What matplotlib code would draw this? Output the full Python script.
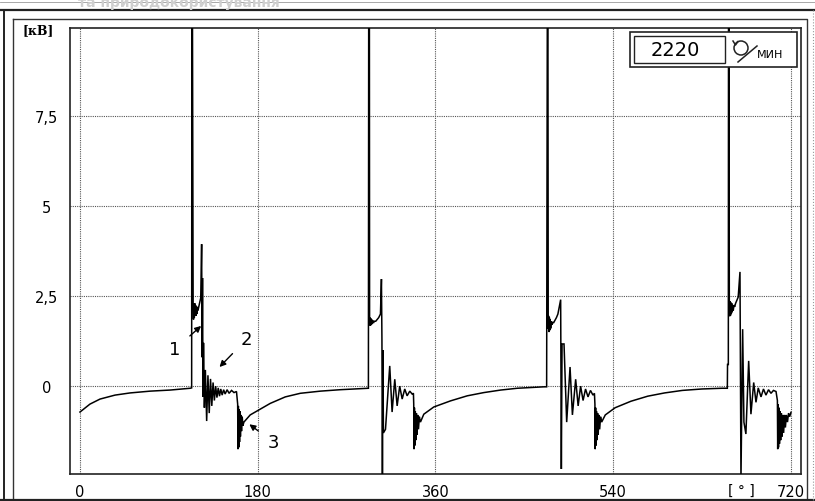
import numpy as np
import matplotlib
matplotlib.use("Agg")
import matplotlib.pyplot as plt
from matplotlib.patches import Circle, Rectangle

plt.rcParams.update({
    'font.family': ['DejaVu Sans'],
    'font.size': 10,
})

# --- данные осциллограммы (градусы ПКВ, кВ) ---
cyc1_deg = [0, 10.1, 20.3, 35.5, 50.7, 71.0, 91.3, 111.6, 113.1, 113.3, 113.9, 114.6,
            115.0, 115.4, 115.8, 116.2, 116.6, 117.0, 117.4, 117.8, 118.3, 118.8, 119.5, 120.3, 121.2, 122.3,
            123.2, 123.7, 124.1, 124.6, 125.1, 126.0, 127.0, 128.3, 129.6, 130.9, 132.2, 133.5, 134.8,
            136.1, 137.4, 138.7, 140.0, 141.3, 142.6, 144.0, 145.5, 147.0, 149.0, 151.0, 153.5, 156.0, 158.5,
            159.7, 160.0, 160.4, 160.8, 161.2, 161.6, 162.0, 162.5, 163.0, 163.6, 164.3, 165.0, 166.0,
            172.4, 182.6, 192.7, 207.9, 223.1, 243.4, 263.7, 292.1]
cyc1_kv = [-0.72, -0.5, -0.36, -0.25, -0.19, -0.14, -0.11, -0.06, -0.05, 10.5, 10.5, 2.2,
           1.85, 2.3, 1.9, 2.3, 1.95, 2.25, 1.95, 2.2, 2.0, 2.2, 2.1, 2.2, 2.3, 2.45,
           3.94, 0.8, 3.0, -0.3, 1.2, -0.6, 0.45, -0.97, 0.3, -0.75, 0.2, -0.55, 0.1,
           -0.4, 0.0, -0.32, -0.05, -0.28, -0.08, -0.25, -0.1, -0.22, -0.1, -0.2, -0.12, -0.18, -0.15,
           -0.5, -1.75, -0.55, -1.7, -0.65, -1.55, -0.7, -1.4, -0.8, -1.25, -0.85, -1.1, -1.0,
           -0.8, -0.64, -0.48, -0.3, -0.2, -0.14, -0.1, -0.06]

cyc2_deg = [292.4, 293.1, 293.3, 293.7, 294.1, 294.5, 294.9, 295.4, 295.9, 296.5, 297.2, 298.0, 299.5,
            301.0, 302.5, 304.3, 305.3, 305.8, 306.3, 306.8, 307.3, 309.4, 313.7, 316.1, 318.8, 321.2,
            323.8, 326.3, 328.9, 331.3, 334.0, 336.4, 337.7,
            338.0, 338.3, 338.7, 339.1, 339.6, 340.1, 340.7, 341.3, 342.0, 342.8, 343.7, 344.8,
            348.2, 358.3, 375.3, 392.2, 409.0, 426.0, 442.9, 469.9, 472.6]
cyc2_kv = [10.5, 10.5, 1.72, 1.9, 1.67, 1.88, 1.7, 1.85, 1.72, 1.82, 1.75, 1.8, 1.8,
           1.85, 1.9, 2.0, 2.97, 1.3, -2.6, 1.0, -1.3, -1.2, 0.56, -0.72, 0.19, -0.55,
           0.0, -0.36, -0.08, -0.27, -0.14, -0.22, -0.2,
           -0.5, -1.75, -0.6, -1.65, -0.7, -1.5, -0.75, -1.35, -0.8, -1.2, -0.85, -1.0,
           -0.78, -0.58, -0.41, -0.27, -0.18, -0.11, -0.06, -0.02, -0.02]

cyc3_deg = [473.3, 473.9, 474.2, 474.6, 475.0, 475.4, 475.8, 476.2, 476.7, 477.2, 477.8, 478.5,
            479.5, 480.5, 481.5, 482.5, 484.0, 486.8, 487.5, 488.2, 490.2, 492.9, 496.3, 498.7, 502.0,
            504.5, 507.0, 509.5, 512.0, 514.5, 517.0, 519.5, 521.0,
            521.5, 521.8, 522.2, 522.6, 523.1, 523.6, 524.2, 524.8, 525.5, 526.3, 527.2, 528.3,
            532.0, 542.0, 558.0, 575.0, 592.0, 610.0, 630.0, 650.0, 655.5]
cyc3_kv = [10.5, 10.5, 1.6, 1.95, 1.5, 1.9, 1.55, 1.85, 1.6, 1.8, 1.7, 1.78,
           1.75, 1.8, 1.85, 1.9, 2.0, 2.4, -2.3, 1.17, 1.17, -1.0, 0.53, -0.8, 0.19,
           -0.55, 0.0, -0.4, -0.08, -0.3, -0.12, -0.25, -0.2,
           -0.5, -1.75, -0.6, -1.65, -0.7, -1.5, -0.75, -1.35, -0.8, -1.2, -0.85, -1.0,
           -0.8, -0.6, -0.42, -0.28, -0.19, -0.12, -0.08, -0.06, -0.06]

cyc4_deg = [655.6, 655.8, 656.6, 656.8, 657.3, 657.6, 658.0, 658.4, 658.8, 659.2, 659.6, 660.0,
            660.5, 661.0, 661.6, 662.3, 663.0, 664.0, 665.2, 666.6, 668.4, 669.4, 671.1, 672.4,
            674.4, 677.2, 679.5, 682.3, 684.6, 686.9, 689.7, 692.2, 694.7, 697.3, 699.8, 702.3, 704.9,
            706.3, 706.6, 707.0, 707.4, 707.9, 708.4, 709.0, 709.6, 710.3, 711.0, 711.8, 712.6,
            713.5, 714.4, 715.4, 716.5, 717.6, 718.7, 720.0]
cyc4_kv = [-0.06, 0.6, 0.6, 10.5, 10.5, 2.3, 1.94, 2.36, 1.96, 2.32, 2.0, 2.3,
           2.05, 2.25, 2.1, 2.25, 2.2, 2.3, 2.38, 2.47, 3.17, -2.6, 1.58, -1.0,
           -1.33, 0.7, -0.78, 0.1, -0.45, -0.05, -0.3, -0.08, -0.25, -0.1, -0.2, -0.12, -0.15,
           -0.4, -1.75, -0.5, -1.7, -0.6, -1.6, -0.7, -1.5, -0.75, -1.4, -0.8, -1.3,
           -0.8, -1.15, -0.8, -1.0, -0.75, -0.85, -0.73]

x_ticks = [0, 180, 360, 540, 720]
x_tick_labels = ['0', '180', '360', '540', '720']
y_ticks = [0, 2.5, 5, 7.5]
y_tick_labels = ['0', '2,5', '5', '7,5']
rpm_value = '2220'

# номера выносок: (текст, положение текста, куда указывает)
callout_labels = ['1', '2', '3']
callout_text_xy = [(96.4, 1.03), (169.0, 1.31), (196.0, -1.56)]
callout_tip_xy = [(122.7, 1.67), (141.3, 0.53), (171.5, -1.06)]

W, H = 815, 502
fig = plt.figure(figsize=(W / 100, H / 100), dpi=100, facecolor='white')

# подложка: рамки как на скане
bg = fig.add_axes([0, 0, 1, 1])
bg.set_xlim(0, W)
bg.set_ylim(H, 0)
bg.axis('off')
bg.text(78, 2.5, 'та природокористування', fontsize=10, fontweight='bold',
        color='#cfcfcf', va='center', ha='left')
bg.plot([0, W], [3, 3], color='#9a9a9a', lw=0.6)
bg.plot([0, W], [10.5, 10.5], color='#222222', lw=1.6)
bg.plot([4, 4], [10.5, H], color='#222222', lw=1.4)
bg.plot([13, 807, 807], [20, 20, H], color='#333333', lw=1.0)
bg.plot([13, 13], [20, H], color='#333333', lw=1.0)
bg.plot([0, W], [500.5, 500.5], color='#222222', lw=1.6)
bg.plot([813, 813], [10.5, H], color='#999999', lw=0.8, ls=':')
bg.text(22, 31, '[кВ]', family='DejaVu Serif', fontweight='bold', fontsize=9,
        ha='left', va='center')
bg.text(741, 491, '[ ° ]', fontsize=10, ha='center', va='center')

# основная область осциллограммы
ax = fig.add_axes([70 / W, (H - 475) / H, (801 - 70) / W, (475 - 29) / H])
ax.set_xlim(-10.1, 730.2)
ax.set_ylim(-2.44, 9.94)
for s in ax.spines.values():
    s.set_linewidth(1.2)
    s.set_color('#222222')

for xv in x_ticks:
    ax.axvline(xv, color='#555555', lw=0.8, ls=(0, (1, 1)), zorder=1)
for yv in y_ticks:
    ax.axhline(yv, color='#555555', lw=0.8, ls=(0, (1, 1)), zorder=1)

deg = cyc1_deg + cyc2_deg + cyc3_deg + cyc4_deg
kv = cyc1_kv + cyc2_kv + cyc3_kv + cyc4_kv
ax.plot(deg, kv, color='black', lw=1.1, solid_joinstyle='miter', zorder=3)

ax.set_xticks(x_ticks)
ax.set_xticklabels(x_tick_labels, fontsize=10.5)
ax.set_yticks(y_ticks)
ax.set_yticklabels(y_tick_labels, fontsize=10.5, ha='center')
ax.tick_params(axis='x', length=0, pad=7)
ax.tick_params(axis='y', length=0, pad=17)

for lab, txy, tip in zip(callout_labels, callout_text_xy, callout_tip_xy):
    ax.annotate(lab, xy=tip, xytext=txy, fontsize=13, ha='center', va='center',
                arrowprops=dict(arrowstyle='-|>', color='black', lw=1.0,
                                mutation_scale=9, shrinkA=6, shrinkB=0),
                zorder=5)

# табличка с оборотами
top = fig.add_axes([0, 0, 1, 1], facecolor='none')
top.set_xlim(0, W)
top.set_ylim(H, 0)
top.axis('off')
top.add_patch(Rectangle((630, 33), 167, 35, facecolor='white',
                        edgecolor='#222222', lw=1.2))
top.add_patch(Rectangle((634, 37), 91, 27, fill=False, edgecolor='#222222', lw=1.0))
top.text(675, 51, rpm_value, fontsize=14, ha='center', va='center')
top.add_patch(Circle((741, 49), 7, fill=False, edgecolor='#222222', lw=1.1))
top.plot([733, 735.5, 738], [42, 46, 42.5], color='#222222', lw=1.1)
top.plot([738, 757], [63, 47], color='#222222', lw=1.1)
top.text(770, 54.5, 'МИН', fontsize=8, ha='center', va='center')

fig.savefig('out.png', dpi=100, facecolor='white')
